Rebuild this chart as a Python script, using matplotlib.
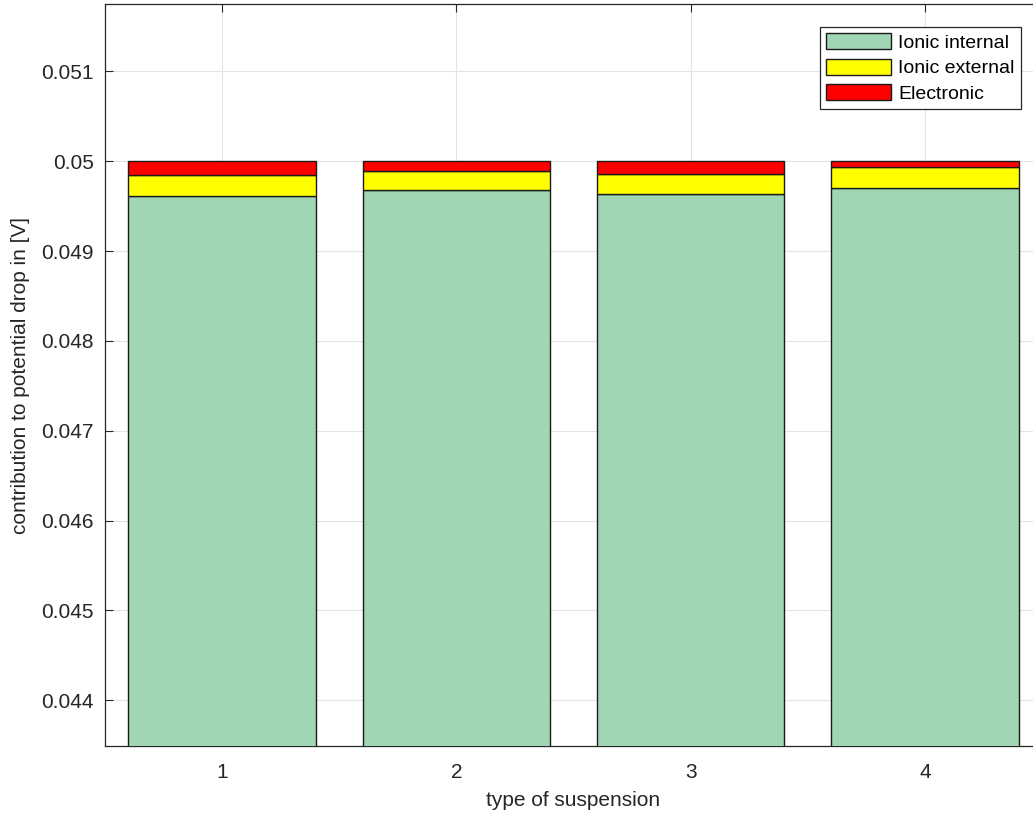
import matplotlib
matplotlib.use("Agg")
import matplotlib.pyplot as plt
import numpy as np

plt.rcParams['font.family'] = ['Liberation Sans', 'DejaVu Sans']

suspensions = [1, 2, 3, 4]
ionic_internal = [0.049610, 0.049674, 0.049636, 0.049707]
ionic_external = [0.000231, 0.000215, 0.000227, 0.000230]
electronic = [0.000159, 0.000111, 0.000137, 0.000063]
yticks = [0.044, 0.045, 0.046, 0.047, 0.048, 0.049, 0.050, 0.051]
ytick_labels = ['0.044', '0.045', '0.046', '0.047', '0.048', '0.049', '0.05', '0.051']

W, H = 1033, 816
fig = plt.figure(figsize=(W / 100, H / 100), dpi=100)
l, r, t, b = 105, 1042, 4, 746
ax = fig.add_axes([l / W, 1 - b / H, (r - l) / W, (b - t) / H])

x = np.array(suspensions)
ii = np.array(ionic_internal)
ie = np.array(ionic_external)
el = np.array(electronic)
kw = dict(width=0.8, edgecolor='#1a1a1a', linewidth=1.0, zorder=3)
ax.bar(x, ii, color='#a1d6b4', label='Ionic internal', **kw)
ax.bar(x, ie, bottom=ii, color='#ffff00', label='Ionic external', **kw)
ax.bar(x, el, bottom=ii + ie, color='#ff0000', label='Electronic', **kw)

ax.set_xlim(0.5, 4.5)
ax.set_ylim(0.04349, 0.05175)
ax.set_xticks(suspensions)
ax.set_xticklabels([str(s) for s in suspensions])
ax.set_yticks(yticks)
ax.set_yticklabels(ytick_labels)
ax.grid(True, color='#e3e3e3', linewidth=0.8, zorder=0)
ax.set_axisbelow(True)
ax.tick_params(direction='in', length=6, width=0.8, colors='#262626',
               labelsize=15, pad=8, top=True, right=True)
ax.tick_params(axis='x', pad=12)
for s in ax.spines.values():
    s.set_color('#262626')
    s.set_linewidth(0.9)

ax.set_xlabel('type of suspension', fontsize=15, color='#262626', labelpad=7)
ax.set_ylabel('contribution to potential drop in [V]', fontsize=15,
              color='#262626', labelpad=8)

leg = ax.legend(loc='upper right', bbox_to_anchor=(1021 / W, 1 - 27 / H),
                bbox_transform=fig.transFigure, borderaxespad=0,
                fancybox=False, framealpha=1, edgecolor='#262626',
                fontsize=14, handlelength=3.3, handleheight=0.9,
                handletextpad=0.4, labelspacing=0.34, borderpad=0.32)
leg.get_frame().set_linewidth(0.9)

fig.savefig('out.png', dpi=100)
